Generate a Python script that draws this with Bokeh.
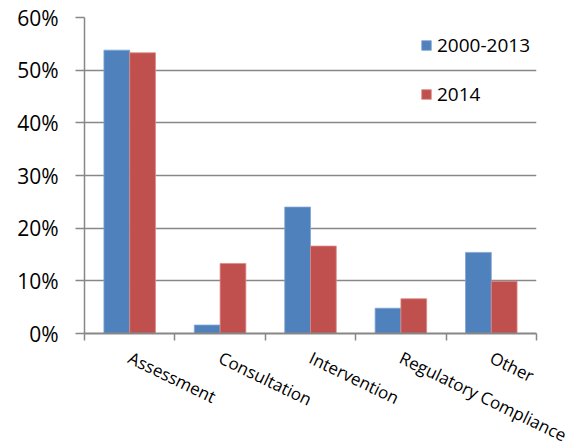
import numpy as np
from bokeh.plotting import figure
from bokeh.models import Range1d, FixedTicker, NumeralTickFormatter, Legend, LegendItem
from bokeh.embed import file_html
from bokeh.resources import INLINE

categories = ["Assessment", "Consultation", "Intervention", "Regulatory Compliance", "Other"]
series_names = ["2000-2013", "2014"]
values_2000_2013 = [0.538, 0.016, 0.240, 0.048, 0.154]
values_2014 = [0.533, 0.133, 0.166, 0.066, 0.099]
y_ticks = [0, 0.1, 0.2, 0.3, 0.4, 0.5, 0.6]

BLUE = "#4F81BD"
RED = "#C0504D"
GREY = "#878787"
FONT = "Open Sans"

n = len(categories)
centers = np.arange(n) + 0.5
bw = 0.285

p = figure(width=586, height=448, output_backend="svg", toolbar_location=None,
           x_range=Range1d(0, n), y_range=Range1d(0, 0.6),
           min_border_left=84, min_border_right=50, min_border_top=17, min_border_bottom=115)
p.frame_width = 452
p.frame_height = 316

r1 = p.vbar(x=centers - bw / 2, top=values_2000_2013, width=bw, fill_color=BLUE, line_color="#7FA3D3", line_width=0.8)
r2 = p.vbar(x=centers + bw / 2, top=values_2014, width=bw, fill_color=RED, line_color="#D98A88", line_width=0.8)

p.outline_line_color = None
p.xgrid.visible = False
p.ygrid.grid_line_color = GREY
p.ygrid.grid_line_width = 1.5
p.ygrid.ticker = FixedTicker(ticks=y_ticks)

ya = p.yaxis[0]
ya.ticker = FixedTicker(ticks=y_ticks, minor_ticks=[])
ya.formatter = NumeralTickFormatter(format="0%")
ya.axis_line_color = GREY
ya.axis_line_width = 1.5
ya.major_tick_line_color = GREY
ya.major_tick_line_width = 1.5
ya.major_tick_in = 0
ya.major_tick_out = 9
ya.minor_tick_line_color = None
ya.major_label_standoff = 17
ya.major_label_text_font = FONT
ya.major_label_text_font_size = "21px"
ya.major_label_text_color = "#000000"

xa = p.xaxis[0]
xa.ticker = FixedTicker(ticks=list(centers), minor_ticks=list(np.arange(n + 1)))
xa.major_label_overrides = {float(c): lab for c, lab in zip(centers, categories)}
xa.axis_line_color = GREY
xa.axis_line_width = 2
xa.major_tick_line_color = None
xa.major_tick_in = 0
xa.major_tick_out = 0
xa.minor_tick_line_color = GREY
xa.minor_tick_line_width = 1.5
xa.minor_tick_in = 0
xa.minor_tick_out = 7
xa.major_label_orientation = -0.45
xa.major_label_standoff = 16
xa.major_label_text_font = FONT
xa.major_label_text_font_size = "17px"
xa.major_label_text_color = "#000000"

legend = Legend(items=[LegendItem(label=series_names[0], renderers=[r1]),
                       LegendItem(label=series_names[1], renderers=[r2])],
                location=(336, 226))
legend.background_fill_alpha = 0
legend.border_line_color = None
legend.padding = 0
legend.margin = 0
legend.spacing = 23
legend.glyph_width = 12
legend.glyph_height = 12
legend.label_standoff = 5
legend.label_text_font = FONT
legend.label_text_font_size = "19px"
legend.label_text_color = "#000000"
p.add_layout(legend, "center")

open("out.html", "w").write(file_html(p, INLINE))
